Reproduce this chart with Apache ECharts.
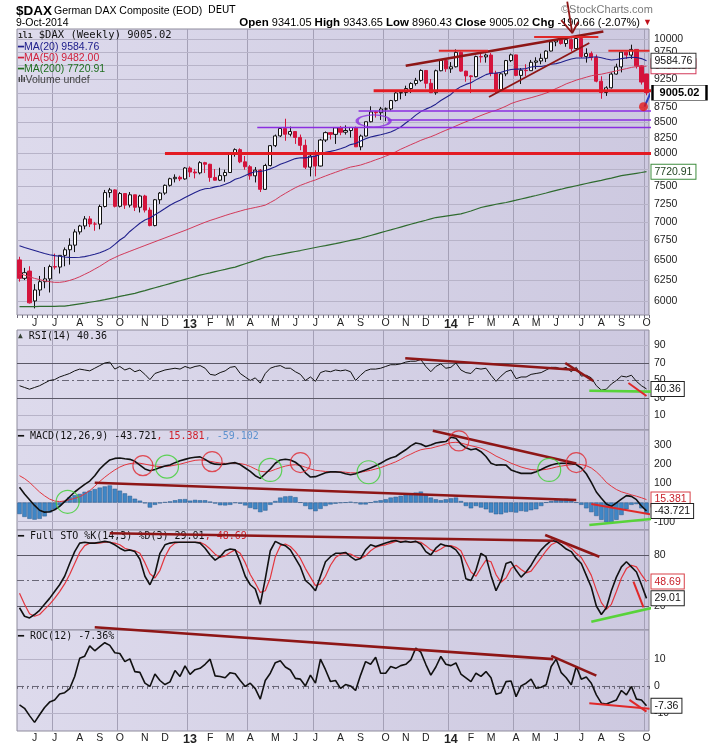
<!DOCTYPE html>
<html>
<head>
<meta charset="utf-8">
<script src="https://cdn.jsdelivr.net/npm/echarts@6/dist/echarts.min.js"></script>
<style>
html,body{margin:0;padding:0;background:#ffffff;}
#chart{width:715px;height:748px;}
</style>
</head>
<body>
<div id="chart"></div>
<script>
// ================= DATA (weekly, $DAX, week of 14-May-2012 .. week of 6-Oct-2014) =================
const opens = [6500,6271,6360,6000,6130,6230,6264,6416,6410,6558,
 6630,6690,6865,6945,7041,6972,6970,7214,7412,7451,
 7216,7398,7233,7380,7203,7363,7163,6950,7309,7405,
 7518,7615,7636,7612,7776,7715,7702,7857,7833,7634,
 7593,7661,7708,8004,8059,7870,7795,7658,7744,7459,
 7814,8122,8278,8398,8305,8349,8254,8127,7789,7959,
 7806,8212,8331,8303,8410,8338,8366,8416,8104,8276,
 8510,8675,8661,8725,8725,8869,9001,9009,9079,9168,
 9225,9405,9172,9006,9400,9589,9435,9473,9743,9393,
 9306,9292,9663,9657,9692,9351,9057,9343,9588,9695,
 9315,9409,9401,9556,9581,9630,9768,9943,9987,9912,
 9987,9815,10009,9666,9720,9644,9210,9009,9092,9339,
 9470,9747,9691,9799,9490,9341.05];
const highs = [6540,6400,6420,6200,6300,6410,6440,6580,6560,6660,
 6780,6900,6960,7080,7080,7000,7240,7450,7480,7460,
 7420,7400,7420,7380,7380,7380,7200,7320,7420,7530,
 7630,7680,7660,7790,7800,7760,7880,7870,7840,7760,
 7780,7750,8020,8080,8080,7960,7820,7790,7760,7840,
 8130,8300,8420,8560,8430,8350,8300,8220,7990,8050,
 8230,8350,8340,8420,8440,8450,8420,8430,8300,8510,
 8770,8690,8760,8750,8880,9050,9050,9130,9190,9270,
 9425,9410,9250,9420,9600,9620,9560,9800,9760,9400,
 9320,9680,9730,9720,9730,9400,9360,9600,9720,9700,
 9450,9520,9600,9650,9720,9780,9950,10000,10050,10000,
 10010,10050,10010,9820,9760,9700,9300,9120,9370,9530,
 9750,9760,9890,9800,9500,9343.65];
const lows = [6230,6250,5970,5914,6060,6150,6100,6380,6330,6420,
 6440,6600,6830,6900,6930,6880,6900,7200,7340,7200,
 7200,7180,7200,7150,7130,7130,6940,6940,7250,7380,
 7500,7560,7580,7600,7640,7620,7680,7700,7570,7590,
 7580,7570,7700,7950,7850,7750,7600,7560,7420,7450,
 7800,8100,8260,8200,8270,8150,8050,7760,7650,7650,
 7800,8180,8220,8150,8290,8300,8250,8100,8050,8270,
 8500,8580,8540,8520,8700,8850,8890,8950,9000,9130,
 9200,9080,9000,8970,9390,9380,9360,9460,9380,9200,
 9000,9280,9550,9550,9300,9000,9030,9300,9560,9300,
 9160,9300,9400,9430,9520,9560,9760,9860,9890,9850,
 9760,9800,9640,9550,9590,9190,8900,8950,9080,9330,
 9370,9620,9620,9440,9150,8960.43];
const closes = [6271,6340,5978,6130,6230,6264,6416,6410,6558,6630,
 6690,6865,6945,7041,6972,6970,7214,7412,7451,7216,
 7398,7233,7380,7203,7363,7163,6950,7309,7405,7518,
 7615,7636,7612,7776,7715,7702,7857,7833,7634,7593,
 7661,7708,8004,8059,7870,7795,7658,7744,7459,7814,
 8122,8278,8398,8305,8349,8254,8127,7789,7959,7806,
 8212,8331,8303,8410,8338,8366,8416,8104,8276,8510,
 8675,8661,8725,8725,8869,9001,9009,9079,9168,9225,
 9405,9172,9006,9400,9589,9435,9473,9743,9393,9306,
 9292,9663,9657,9692,9351,9057,9343,9588,9695,9315,
 9409,9401,9556,9581,9630,9768,9943,9987,9912,9987,
 9815,10009,9666,9720,9644,9210,9009,9092,9339,9470,
 9747,9691,9799,9490,9195,9005.02];
const ma20 = [6683,6660,6640,6620,6600,6582,6566,6555,6546,6538,
 6532,6530,6534,6542,6556,6572,6592,6616,6648,6700,
 6757,6801,6871,6925,6982,7027,7053,7098,7141,7185,
 7231,7270,7303,7340,7377,7414,7446,7467,7476,7495,
 7508,7532,7563,7606,7631,7663,7698,7720,7722,7737,
 7763,7795,7834,7860,7892,7920,7933,7931,7947,7958,
 7986,8017,8032,8049,8073,8101,8139,8157,8198,8233,
 8260,8279,8296,8317,8343,8380,8424,8489,8549,8620,
 8680,8722,8757,8807,8869,8923,8975,9057,9113,9153,
 9184,9234,9281,9329,9353,9356,9372,9398,9424,9429,
 9429,9440,9468,9477,9479,9496,9519,9531,9557,9591,
 9618,9635,9635,9637,9651,9659,9642,9617,9600,9607,
 9624,9639,9651,9646,9625,9584.76];
const ma50 = [6330,6310,6290,6270,6255,6240,6230,6222,6222,6230,
 6245,6265,6290,6320,6350,6385,6420,6460,6500,6530,
 6560,6585,6610,6635,6660,6685,6710,6735,6760,6785,
 6810,6835,6860,6885,6912,6940,6968,6995,7020,7042,
 7065,7088,7110,7130,7150,7170,7185,7200,7215,7233,
 7270,7309,7358,7401,7443,7483,7517,7545,7573,7597,
 7627,7656,7684,7711,7738,7766,7790,7804,7821,7846,
 7872,7901,7927,7958,7988,8025,8066,8101,8137,8171,
 8207,8237,8265,8298,8335,8370,8402,8440,8475,8510,
 8542,8581,8614,8647,8677,8702,8736,8773,8817,8847,
 8873,8896,8919,8944,8970,9000,9036,9080,9119,9163,
 9195,9229,9256,9282,9308,9325,9337,9357,9378,9397,
 9419,9439,9461,9476,9483,9482.00];
const ma200 = [5935,5935,5935,5935,5936,5936,5937,5938,5939,5940,
 5948,5957,5966,5975,5985,5994,6003,6015,6028,6040,
 6053,6065,6078,6090,6107,6123,6140,6157,6173,6190,
 6207,6224,6241,6258,6275,6292,6310,6324,6338,6353,
 6367,6381,6396,6410,6431,6452,6472,6493,6514,6535,
 6547,6559,6571,6584,6596,6608,6620,6633,6646,6659,
 6672,6684,6697,6710,6724,6738,6752,6766,6780,6798,
 6817,6836,6855,6874,6892,6911,6930,6949,6968,6986,
 7005,7023,7042,7060,7070,7080,7090,7100,7110,7130,
 7150,7175,7200,7215,7230,7245,7258,7270,7287,7303,
 7320,7337,7353,7370,7388,7406,7425,7443,7461,7480,
 7496,7512,7528,7544,7560,7575,7590,7608,7625,7643,
 7660,7672,7684,7696,7708,7720.91];
const rsi14 = [44,42,40,42,44,47,50,51,54,56,
 58,61,63,62,61,64,67,70,71,63,
 66,62,64,60,62,57,51,58,60,62,
 63,64,63,66,64,66,67,64,57,56,
 59,61,65,66,58,54,50,53,47,58,
 64,66,67,64,64,60,57,50,54,49,
 59,61,60,62,61,62,60,50,56,61,
 63,63,64,66,68,68,69,71,72,72,
 74,66,60,66,69,64,65,70,62,59,
 58,64,63,64,56,49,55,60,62,52,
 54,54,57,58,59,62,65,65,63,65,
 60,65,55,56,53,44,39,40,46,50,
 55,54,56,49,44,40.36];
const macdLine = [80,45,15,-15,-40,-50,-48,-38,-20,5,
 30,55,75,95,112,140,175,200,222,230,
 232,228,225,215,195,175,166,172,182,190,
 196,208,218,225,232,236,238,225,208,200,
 198,200,205,208,198,180,162,140,126,150,
 175,205,222,226,222,210,190,155,133,135,
 145,155,160,160,158,150,145,150,160,170,
 180,192,205,220,232,240,258,275,295,310,
 305,292,300,310,315,318,340,335,305,285,
 275,280,265,240,205,195,197,195,170,160,
 152,152,152,160,172,185,196,202,205,205,
 203,198,180,150,105,55,22,-8,-20,-2,
 18,36,32,15,-18,-43.721];
const macdSignal = [140,125,105,80,55,35,18,8,5,8,
 15,22,30,45,62,85,110,132,152,170,
 185,196,203,206,205,200,195,190,188,188,
 190,195,200,207,214,220,222,220,215,210,
 206,204,205,205,203,198,188,175,163,160,
 163,173,182,190,195,197,193,184,175,168,
 165,162,160,160,160,158,155,155,158,163,
 168,175,182,192,202,212,225,240,252,265,
 275,280,283,290,297,305,312,314,310,303,
 296,290,283,272,258,242,230,218,205,195,
 185,178,172,170,170,173,178,185,190,194,
 197,200,198,192,180,160,135,105,85,68,
 56,48,40,33,25,15.381];
const macdHist = [-60,-75,-85,-89,-85,-72,-52,-35,-15,8,
 28,38,45,56,62,70,78,84,89,72,
 62,48,35,20,10,-4,-26,-12,-4,2,
 6,12,17,18,10,14,12,12,5,-5,
 -14,-15,-12,-2,-6,-15,-28,-35,-50,-42,
 -12,8,26,32,34,28,0,-18,-35,-45,
 -33,-18,-10,-6,-2,0,4,-2,-10,-10,
 0,8,12,17,26,30,35,44,48,52,
 57,44,26,17,12,17,22,26,8,-18,
 -30,-18,-26,-35,-52,-61,-61,-52,-49,-52,
 -44,-47,-40,-35,-18,0,8,12,17,20,
 8,0,-12,-30,-50,-70,-90,-102,-104,-90,
 -65,-35,-12,-8,-30,-59.102];
const stoK = [18,8,6,10,15,22,29,37,45,55,
 70,84,94,95,94,94,95,96,95,92,
 88,85,86,84,75,55,45,58,82,92,
 94,95,95,95,95,95,94,88,80,74,
 78,85,87,86,72,55,45,40,22,52,
 85,96,93,91,86,76,66,50,45,38,
 55,72,78,82,82,83,78,74,76,86,
 92,90,92,94,96,97,95,96,95,96,
 93,84,80,88,93,91,90,86,78,52,
 50,62,82,78,56,38,50,70,72,62,
 54,60,68,78,86,92,97,96,92,87,
 84,76,70,56,42,20,10,18,38,54,
 66,72,66,60,45,29.01];
const stoD = [35,22,11,8,10,16,22,29,37,46,
 57,70,83,91,94,94,94,95,95,94,
 92,88,86,85,82,71,58,53,62,78,
 89,94,95,95,95,95,95,92,87,81,
 77,79,83,86,82,71,57,47,36,38,
 53,78,91,93,90,84,76,64,54,44,
 46,55,68,77,81,82,81,78,76,79,
 85,89,91,92,94,96,96,96,95,96,
 95,91,86,84,87,91,91,89,85,72,
 60,55,65,74,72,57,48,53,64,68,
 63,59,61,69,77,85,92,95,95,92,
 88,82,77,67,56,39,24,16,22,37,
 53,64,68,66,57,48.69];
const roc12 = [-7,-8.3,-11,-13.5,-10.7,-8,-6,-5.2,-3,-2.5,
 -1,3.5,10.2,11,14.8,13,14.5,16,15,12.3,
 12,9,10,5.3,5,1,-0.2,4.4,2,0.5,
 1.5,5.7,3.5,7.4,4.3,6,6.5,8,9.9,3.7,
 3.5,3,4.9,4.5,2,-0.2,1,-1,-4.9,2,
 4.7,8.6,9.3,7,5.9,2.8,2.5,0,4,1,
 9.9,6,1.6,2,-0.9,0.5,0,-1.7,4,9,
 8,10.6,4.7,4.7,7.2,6.5,7.5,8,9.6,14,
 12.5,8,4,7,10.9,8,7.5,8.5,4.4,3,
 1.6,4.7,3.5,5.3,3,-3.1,-2.5,1.6,1.8,-4,
 0,1,2.5,-0.9,-0.5,0.4,7.2,9.9,4.9,3,
 0.4,7.2,2.5,3.3,1,-3.3,-6.4,-6.7,-6,-5.2,
 -1.7,-3.3,-0.2,-4.9,-5.2,-7.36];

const monthLetters = ['J','F','M','A','M','J','J','A','S','O','N','D'];
const priceTicks = [6000,6250,6500,6750,7000,7250,7500,7750,8000,8250,8500,8750,9000,9250,9500,9750,10000];
const priceTickLabels = ['6000','6250','6500','6750','7000','7250','7500','','8000','8250','8500','8750','','9250','','9750','10000'];
const rsiTicks = [90,70,50,30,10];
const rsiTickLabels = ['90','70','50','30','10'];
const macdTicks = [300,200,100,0,-100];
const macdTickLabels = ['300','200','100','','-100'];
const stoTicks = [80,50,20];
const stoTickLabels = ['80','','20'];
const rocTicks = [10,0,-10];
const rocTickLabels = ['10','0','-10'];

const quote = {open:'9341.05', high:'9343.65', low:'8960.43', close:'9005.02', chg:'-190.66', pct:'(-2.07%)'};
const lastVals = {ma20:'9584.76', ma50:'9482.00', ma200:'7720.91', rsi:'40.36', macd:'-43.721', signal:'15.381', hist:'-59.102', k:'29.01', d:'48.69', roc:'-7.36'};

// hand-drawn annotations, in data space: [week index, value]
const priceNotes = [
  {p:[[70.6,9040],[126,9040]], k:'red3'},
  {p:[[29,8000],[126,8000]], k:'red3'},
  {p:[[77,9491],[116.4,10149]], k:'dark'},
  {p:[[83.6,9772],[93.4,9772]], k:'red2'},
  {p:[[102.6,10040],[115.4,10040]], k:'red2'},
  {p:[[117.4,9772],[125.6,9772]], k:'red2'},
  {p:[[93.6,8932],[113.6,9922]], k:'dark2'},
  {p:[[67.6,8690],[139,8690]], k:'purple'},
  {p:[[73.4,8539],[139,8539]], k:'purple'},
  {p:[[47.4,8415],[138.4,8415]], k:'purple'},
  {p:[[124.6,8764],[126,9040],[127.6,8540]], k:'blue'},
  {p:[[109.2,10754],[110.2,10117]], k:'dark2'},
  {p:[[108,10376],[110.2,10117],[111.4,10342]], k:'dark2'}
];
const priceDot = [[124.4,8764]];
const priceEllipse = [[70.6,8524]];
const rsiNotes = [
  {p:[[76.9,75.4],[111.3,62]], k:'dark'},
  {p:[[108.8,70],[114.4,49.4]], k:'dark'},
  {p:[[113.6,38.3],[127,37.2]], k:'green'},
  {p:[[121.4,47.1],[125,32.3]], k:'red2'}
];
const macdNotes = [
  {p:[[15,103],[111,13]], k:'dark'},
  {p:[[82.4,374.6],[111,204]], k:'dark'},
  {p:[[114,-8],[126.7,-65]], k:'red2'},
  {p:[[113.6,-117],[127,-83]], k:'green'}
];
const macdRedCircles = [[24.6,192],[38.4,213],[56,208],[87.6,321],[111,208]];
const macdGreenCircles = [[9.6,4],[29.4,187],[50,170],[69.6,158],[105.6,170]];
const stoNotes = [
  {p:[[18,105.5],[106.4,96.8]], k:'dark'},
  {p:[[104.8,103.5],[115.6,78]], k:'dark'},
  {p:[[122.4,48.6],[124.4,18.5]], k:'red2'},
  {p:[[114,1.5],[127.8,20]], k:'green'}
];
const rocNotes = [
  {p:[[15,21.7],[106.4,9.9]], k:'dark'},
  {p:[[106,11.1],[115,3.8]], k:'dark'},
  {p:[[113.6,-6.4],[125.6,-8.5]], k:'red2'},
  {p:[[121.6,-5.2],[125,-9.5]], k:'red2'}
];

// ================= BUILD =================
const weeks = [];
for (let i = 0; i < closes.length; i++) {
  weeks.push(new Date(Date.UTC(2012, 4, 14 + 7 * i)).toISOString().slice(0, 10));
}
const labelText = {};
const quarterIdx = [];
for (let i = 1; i < weeks.length; i++) {
  const m = +weeks[i].slice(5, 7) - 1, pm = +weeks[i - 1].slice(5, 7) - 1;
  if (m !== pm) {
    labelText[i] = m === 0 ? '{y|' + weeks[i].slice(2, 4) + '}' : monthLetters[m];
    if (m % 3 === 0) quarterIdx.push(i);
  }
}

const FONT = 'Liberation Sans, Arial, sans-serif';
const MONO = 'DejaVu Sans Mono, monospace';
const bg = {type:'linear', x:0, y:0, x2:1, y2:0, colorStops:[{offset:0, color:'#dddaec'},{offset:1, color:'#cdc9e0'}]};
const gridDefs = [[29,286],[330,100],[430,100],[530,100],[630,101]];
const grid = gridDefs.map(g => ({left:17, width:632, top:g[0], height:g[1], show:true, backgroundColor:bg, borderColor:'#8e8b9c', borderWidth:1, z:0}));

const xAxis = [];
for (let k = 0; k < 5; k++) {
  const showLab = (k === 0 || k === 4);
  xAxis.push({
    type:'category', gridIndex:k, data:weeks, boundaryGap:true,
    axisLine:{show:false},
    axisTick:{show:showLab, interval:0, length:3, lineStyle:{color:'#6d6a7a'}},
    axisLabel:{show:showLab, interval:(idx) => labelText[idx] !== undefined, margin: k === 0 ? 3 : 2,
      formatter:(val) => { const j = weeks.indexOf(val); return labelText[j] || ''; },
      color:'#222', fontSize:10.5, fontFamily:FONT, rich:{y:{fontWeight:'bold', fontSize:12.5, color:'#222', fontFamily:FONT}}},
    splitLine:{show:false}
  });
}
for (let k = 0; k < 5; k++) {
  xAxis.push({type:'value', gridIndex:k, min:-0.5, max:125.5, show:false});
}
const yAxis = [
  {type:'log', gridIndex:0, min:5838, max:10197, show:false},
  {type:'value', gridIndex:1, min:-6.6, max:107.7, show:false},
  {type:'value', gridIndex:2, min:-143, max:378, show:false},
  {type:'value', gridIndex:3, min:-8.2, max:109.4, show:false},
  {type:'value', gridIndex:4, min:-16.7, max:20.7, show:false}
];

const LIGHT = '#b7b3c8', DARK = '#5a5866', DASHDOT = [7,3,2,3];
function hLine(v, lab, color, type) {
  return {yAxis:v, lineStyle:{color:color || LIGHT, width:1, type:type || 'solid'},
    label: lab ? {show:true, position:'end', formatter:lab, color:'#222', fontSize:10.5, fontFamily:FONT, distance:5} : {show:false}};
}
function vLines() {
  return quarterIdx.map(q => ({xAxis:q - 0.5, lineStyle:{color:'#a4a0b6', width:1, type:'solid'}, label:{show:false}}));
}
function gridSeries(k, lines) {
  return {type:'line', xAxisIndex:5 + k, yAxisIndex:k, data:[], silent:true,
    markLine:{silent:true, z:1, animation:false, symbol:['none','none'], data:vLines().concat(lines)}};
}

const series = [];
series.push(gridSeries(0, priceTicks.map((v, i) => hLine(v, priceTickLabels[i]))));
series.push(gridSeries(1, rsiTicks.map((v, i) => hLine(v, rsiTickLabels[i],
  (v === 70 || v === 30) ? DARK : (v === 50 ? '#6a6878' : LIGHT), v === 50 ? DASHDOT : 'solid'))));
series.push(gridSeries(2, macdTicks.map((v, i) => hLine(v, macdTickLabels[i]))));
series.push(gridSeries(3, stoTicks.map((v, i) => hLine(v, stoTickLabels[i],
  v === 50 ? '#6a6878' : DARK, v === 50 ? DASHDOT : 'solid'))));
series.push(gridSeries(4, rocTicks.map((v, i) => hLine(v, rocTickLabels[i],
  v === 0 ? '#6a6878' : LIGHT, v === 0 ? DASHDOT : 'solid'))));

function tag(text, color, border, bold) {
  return {show:true, formatter:() => text, color:color, backgroundColor:'#ffffff', borderColor:border, borderWidth:1,
    padding:[2,3,1,3], fontSize:10.5, fontFamily:FONT, fontWeight: bold ? 'bold' : 'normal', distance:5};
}
function lineS(k, data, color, width, z, end) {
  return {type:'line', xAxisIndex:k, yAxisIndex:k, data:data, symbol:'none', showSymbol:false, z:z,
    lineStyle:{color:color, width:width}, silent:true, endLabel:end};
}

// price panel
series.push(lineS(0, ma200, '#2f6b2f', 1.2, 4, tag(lastVals.ma200, '#1b3d1b', '#3c8c3c')));
series.push(lineS(0, ma50, '#d23a5a', 1, 4, tag(lastVals.ma50, '#c0203c', '#d23a5a')));
series.push(lineS(0, ma20, '#20208c', 1.1, 5, tag(lastVals.ma20, '#111', '#333')));
series.push({
  type:'candlestick', xAxisIndex:0, yAxisIndex:0, z:3, barWidth:3.6, silent:true,
  data: opens.map((o, i) => [o, closes[i], lows[i], highs[i]]),
  itemStyle:{color:'#ffffff', borderColor:'#111111', color0:'#d4143c', borderColor0:'#d4143c', borderWidth:1},
  markPoint:{silent:true, animation:false, symbol:'rect', symbolSize:[54,15], symbolOffset:[33,0],
    data:[{coord:[weeks[weeks.length - 1], closes[closes.length - 1]]}],
    itemStyle:{color:'#ffffff', borderColor:'#000', borderWidth:1.3},
    label:{show:true, position:'inside', formatter:quote.close, color:'#000', fontWeight:'bold', fontSize:11, fontFamily:FONT}}
});
// RSI
series.push(lineS(1, rsi14, '#111', 1, 4, tag(lastVals.rsi, '#111', '#222')));
// MACD
series.push({type:'bar', xAxisIndex:2, yAxisIndex:2, data:macdHist, barWidth:'88%', z:3, silent:true,
  itemStyle:{color:'#3f86c6', borderColor:'#2b5b8a', borderWidth:0.5}});
series.push(lineS(2, macdSignal, '#e3363e', 1, 4, tag(lastVals.signal, '#c8202a', '#d84048')));
series.push(lineS(2, macdLine, '#111', 1.6, 5, tag(lastVals.macd, '#111', '#222')));
// STO
series.push(lineS(3, stoD, '#e3363e', 1.2, 4, tag(lastVals.d, '#c8202a', '#d84048')));
series.push(lineS(3, stoK, '#111', 1.6, 5, tag(lastVals.k, '#111', '#222')));
// ROC
series.push(lineS(4, roc12, '#111', 1.6, 5, tag(lastVals.roc, '#111', '#222')));

// annotations
const noteStyles = {
  dark:{color:'#8e1616', width:2.6}, dark2:{color:'#8e1616', width:1.8},
  red3:{color:'#e31b23', width:3}, red2:{color:'#e02828', width:2},
  green:{color:'#58d33a', width:2.6}, purple:{color:'#8b2ee0', width:1.3},
  blue:{color:'#2a3fc4', width:2}
};
function notes(list, k) {
  list.forEach(n => series.push({type:'line', xAxisIndex:5 + k, yAxisIndex:k, data:n.p, symbol:'none', showSymbol:false,
    clip:false, silent:true, z:7, lineStyle:Object.assign({}, noteStyles[n.k])}));
}
notes(priceNotes, 0); notes(rsiNotes, 1); notes(macdNotes, 2); notes(stoNotes, 3); notes(rocNotes, 4);
series.push({type:'scatter', xAxisIndex:5, yAxisIndex:0, data:priceDot, symbolSize:9, z:8, silent:true, itemStyle:{color:'#e41818'}});
series.push({type:'scatter', xAxisIndex:5, yAxisIndex:0, data:priceEllipse, symbolSize:[33,12], z:8, silent:true,
  itemStyle:{color:'rgba(0,0,0,0)', borderColor:'#8b2ee0', borderWidth:2}});
series.push({type:'scatter', xAxisIndex:7, yAxisIndex:2, data:macdRedCircles, symbolSize:20, z:8, silent:true,
  itemStyle:{color:'rgba(0,0,0,0)', borderColor:'#e02830', borderWidth:1.2}});
series.push({type:'scatter', xAxisIndex:7, yAxisIndex:2, data:macdGreenCircles, symbolSize:23, z:8, silent:true,
  itemStyle:{color:'rgba(0,0,0,0)', borderColor:'#3ccf30', borderWidth:1.2}});

// texts
function T(left, top, text, style, right) {
  const t = {top:top, padding:0, text:text, textStyle:Object.assign({fontFamily:FONT, fontSize:11, color:'#000', fontWeight:'normal'}, style)};
  if (right != null) t.right = right; else t.left = left;
  return t;
}
const title = [
  T(16, 4, '$DAX', {fontWeight:'bold', fontSize:13.5}),
  T(54, 5.5, 'German DAX Composite (EOD)', {fontSize:10.5}),
  T(208, 5.5, 'DEUT', {fontSize:10, fontFamily:'DejaVu Sans, sans-serif'}),
  T(16, 18, '9-Oct-2014', {fontSize:10.5}),
  T(null, 17, '{b|Open} ' + quote.open + ' {b|High} ' + quote.high + ' {b|Low} ' + quote.low + ' {b|Close} ' + quote.close +
     ' {b|Chg} ' + quote.chg + ' ' + quote.pct + ' {r|▼}',
     {fontSize:11, rich:{b:{fontWeight:'bold', fontSize:11.5, fontFamily:FONT, color:'#000'}, r:{color:'#c0101a', fontSize:9}}}, 63),
  T(561, 4, '©StockCharts.com', {fontSize:11, color:'#7a7a7a'}),
  T(18, 30, '{i|ılı} $DAX (Weekly) 9005.02', {fontFamily:MONO, fontSize:10.5, color:'#111', rich:{i:{fontSize:8, fontWeight:'bold', color:'#333'}}}),
  T(18, 41.5, '{d|━}MA(20) ' + lastVals.ma20, {fontSize:10.5, color:'#20208c', rich:{d:{fontSize:10, color:'#20208c'}}}),
  T(18, 53, '{d|━}MA(50) ' + lastVals.ma50, {fontSize:10.5, color:'#d0203c', rich:{d:{fontSize:10, color:'#d0203c'}}}),
  T(18, 64, '{d|━}MA(200) ' + lastVals.ma200, {fontSize:10.5, color:'#1e6e1e', rich:{d:{fontSize:10, color:'#1e6e1e'}}}),
  T(18, 74.5, '{d|ılı}Volume undef', {fontSize:10.5, color:'#444', rich:{d:{fontSize:9, fontWeight:'bold', color:'#333'}}}),
  T(18, 331, '{i|▲} RSI(14) ' + lastVals.rsi, {fontFamily:MONO, fontSize:10, color:'#111', rich:{i:{fontSize:8, color:'#334033'}}}),
  T(18, 431.5, '{d|━} MACD(12,26,9) ' + lastVals.macd + '{r|, ' + lastVals.signal + '}{b|, ' + lastVals.hist + '}',
     {fontFamily:MONO, fontSize:10, color:'#111', rich:{d:{fontSize:10, color:'#111'}, r:{fontFamily:MONO, fontSize:10, color:'#d0202a'}, b:{fontFamily:MONO, fontSize:10, color:'#5f93cf'}}}),
  T(18, 531, '{d|━} Full STO %K(14,3) %D(3) ' + lastVals.k + '{r|, ' + lastVals.d + '}',
     {fontFamily:MONO, fontSize:10, color:'#111', rich:{d:{fontSize:10, color:'#111'}, r:{fontFamily:MONO, fontSize:10, color:'#d0202a'}}}),
  T(18, 631.5, '{d|━} ROC(12) ' + lastVals.roc + '%', {fontFamily:MONO, fontSize:10, color:'#111', rich:{d:{fontSize:10, color:'#111'}}})
];

const chart = echarts.init(document.getElementById('chart'));
chart.setOption({
  animation:false,
  backgroundColor:'#ffffff',
  title:title,
  grid:grid,
  xAxis:xAxis,
  yAxis:yAxis,
  series:series
});
</script>
</body>
</html>
